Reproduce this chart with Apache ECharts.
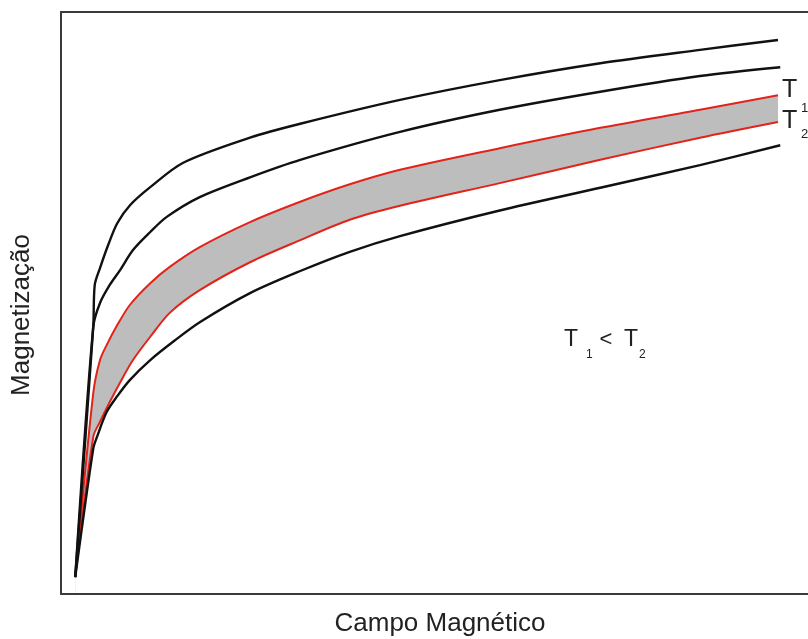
<!DOCTYPE html>
<html>
<head>
<meta charset="utf-8">
<script src="https://cdn.jsdelivr.net/npm/echarts@6/dist/echarts.min.js"></script>
<style>html,body{margin:0;padding:0;background:#fff}#c{width:808px;height:639px}</style>
</head>
<body>
<div id="c"></div>
<script>
// Curves (x: field, y: magnetization, arbitrary units)
const blackTop = [[1.9,2.9],[4.3,45.9],[4.5,53.1],[5.2,56.0],[6.3,60.0],[7.5,63.7],[9.2,66.8],[11.9,69.9],[16.3,74.1],[25.2,78.4],[31.9,80.8],[45.2,84.9],[58.5,88.3],[71.9,91.2],[85.2,93.5],[95.6,95.2]];
const blackSecond = [[1.9,2.9],[4.3,45.9],[5.2,50.0],[6.5,53.1],[7.9,55.7],[9.6,59.1],[11.9,62.2],[14.1,64.8],[18.5,68.2],[25.2,71.6],[31.9,74.6],[45.2,79.4],[58.5,83.2],[71.9,86.3],[85.2,89.0],[95.9,90.5]];
const redT1 = [[1.9,2.9],[4.3,34.5],[5.2,40.2],[6.1,42.8],[7.5,46.2],[9.2,49.7],[11.9,53.4],[14.5,56.2],[18.5,59.6],[25.2,63.9],[31.9,67.4],[38.5,70.4],[45.2,72.9],[58.5,76.6],[71.9,80.1],[85.2,83.2],[95.6,85.7]];
const redT2 = [[1.9,2.9],[4.3,27.0],[5.2,29.6],[6.5,33.0],[7.9,36.4],[9.6,40.2],[11.9,44.2],[14.5,48.3],[18.5,52.2],[25.2,57.0],[31.9,60.8],[38.5,64.3],[45.2,66.7],[58.5,70.6],[71.9,74.6],[85.2,78.4],[95.6,81.1]];
const blackBottom = [[1.9,2.9],[4.3,25.0],[4.8,27.0],[6.1,31.3],[7.5,34.0],[9.2,36.8],[11.9,40.2],[15.2,43.6],[18.5,46.7],[25.2,51.7],[31.9,55.5],[38.5,58.8],[45.2,61.5],[58.5,65.9],[71.9,69.8],[85.2,73.7],[95.9,77.1]];
const xTitle = 'Campo Magnético';
const yTitle = 'Magnetização';

const FONT = '"Liberation Sans", Arial, sans-serif';
const chart = echarts.init(document.getElementById('c'), null, {renderer: 'canvas'});

function blackLine(data) {
  return {type: 'line', data: data, showSymbol: false, symbol: 'none', smooth: 0.3, z: 6,
    lineStyle: {color: '#111', width: 2.4}, silent: true};
}
function redLine(data, fill, z) {
  return {type: 'line', data: data, showSymbol: false, symbol: 'none', smooth: 0.3, z: z,
    lineStyle: {color: '#e2231a', width: 2}, areaStyle: {color: fill, opacity: 1, origin: 'start'}, silent: true};
}
function txt(text, x, y, size, align) {
  return {type: 'text', x: x, y: y, z: 100, silent: true,
    style: {text: text, font: 'normal ' + size + 'px ' + FONT, fill: '#222', align: align || 'left', verticalAlign: 'middle'}};
}
const hidden = {axisTick: {show: false}, axisLabel: {show: false}, splitLine: {show: false}};
const frame = {show: true, onZero: false, lineStyle: {color: '#3a3a3a', width: 2}};

const option = {
  animation: false,
  backgroundColor: '#fff',
  grid: {left: 61, top: 12, right: 0, bottom: 45},
  xAxis: [
    Object.assign({type: 'value', min: 0, max: 99.6, position: 'bottom', axisLine: frame, z: 10}, hidden),
    Object.assign({type: 'value', min: 0, max: 99.6, position: 'top', axisLine: frame, z: 10}, hidden)
  ],
  yAxis: Object.assign({type: 'value', min: 0, max: 100, axisLine: frame, z: 10}, hidden),
  series: [
    redLine(redT1, '#bdbdbd', 2),
    redLine(redT2, '#ffffff', 3),
    blackLine(blackTop),
    blackLine(blackSecond),
    blackLine(blackBottom)
  ],
  graphic: {
    z: 100,
    elements: [
      txt(xTitle, 440, 624, 26, 'center'),
      {type: 'text', x: 22, y: 315, z: 100, rotation: Math.PI / 2, silent: true,
        style: {text: yTitle, font: 'normal 26px ' + FONT, fill: '#222', align: 'center', verticalAlign: 'middle'}},
      txt('T', 782, 90, 25),
      txt('1', 801, 108, 13),
      txt('T', 782, 121, 25),
      txt('2', 801, 134, 13),
      txt('T', 564, 340, 23),
      txt('1', 586, 355, 12),
      txt('<', 606, 340, 22, 'center'),
      txt('T', 624, 340, 23),
      txt('2', 639, 355, 12)
    ]
  }
};
chart.setOption(option);
</script>
</body>
</html>
